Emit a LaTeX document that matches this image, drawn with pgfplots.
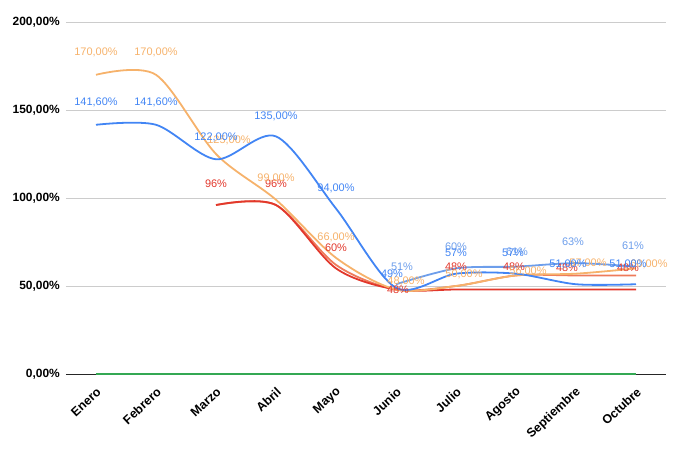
\documentclass[border=0pt]{standalone}
\usepackage{pgfplots}
\pgfplotsset{compat=1.18}
\usepackage{pgfplotstable}
\usepackage{fontspec}
\setmainfont{Liberation Sans}
\definecolor{cblue}{HTML}{4285F4}
\definecolor{clblue}{HTML}{6D9EEB}
\definecolor{corange}{HTML}{F6B26B}
\definecolor{cred}{HTML}{E2382C}
\definecolor{csalmon}{HTML}{EE7B5A}
\definecolor{cgreen}{HTML}{34A853}
\definecolor{cgrid}{HTML}{CCCCCC}

\pgfplotstableread{
x y lbl dx dy
0 141.6 141,60 0 22
1 141.6 141,60 0 22
2 122 122,00 0 22
3 135 135,00 0 20
4 94 94,00 0 20
5 49 49 -4 14
6 57 57 0 21
7 57 57 -3 21
8 51 51,00 -8 20
9 51 51,00 -8 20
}\tblue

\pgfplotstableread{
x y lbl dx dy
5 51 51 6 17
6 60 60 0 22
7 61 61 1 15
8 63 63 -3 21
9 61 61 -3 21
}\tlblue

\pgfplotstableread{
x y lbl dx dy
0 170 170,00 0 22
1 170 170,00 0 22
2 125 125,00 13 14
3 99 99,00 0 21
4 66 66,00 0 20
5 48 48,00 10 8
6 50 50,00 8 12
7 56 56,00 12 4
8 57 57,00 12 10
9 60 60,00 13 4
}\torange

\pgfplotstableread{
x y lbl dx dy
2 96 96 0 21
3 96 96 0 21
4 60 60 0 21
5 48 48 2 0
6 48 48 0 23
7 48 48 -2 23
8 48 48 -9 22
9 48 48 -8 22
}\tred

\pgfplotstableread{
x y
2 96
3 96
4 62
5 48
6 50
7 56
8 56
9 56
}\tsalmon

\pgfplotstableread{
x y
0 0
1 0
2 0
3 0
4 0
5 0
6 0
7 0
8 0
9 0
}\tgreen

\begin{document}
\begin{tikzpicture}
\begin{axis}[
  scale only axis, width=600bp, height=352bp,
  xmin=-0.5, xmax=9.5, ymin=0, ymax=200,
  clip=false,
  axis x line*=bottom, axis y line*=left,
  x axis line style={draw=black!85, line width=0.8bp},
  y axis line style={draw=none},
  major tick length=0pt,
  xtick={0,...,9},
  xticklabels={Enero,Febrero,Marzo,Abril,Mayo,Junio,Julio,Agosto,Septiembre,Octubre},
  xticklabel style={font=\fontsize{12.5}{12.5}\selectfont\bfseries, xshift=3bp, yshift=-16bp, rotate=43, anchor=east, inner sep=0pt},
  ytick={0,50,100,150,200},
  yticklabels={{0,00\%},{50,00\%},{100,00\%},{150,00\%},{200,00\%}},
  yticklabel style={font=\fontsize{12}{12}\selectfont\bfseries, anchor=east, inner sep=0pt, xshift=-6bp},
  /pgf/number format/assume math mode=true,
  ymajorgrids, grid style={draw=cgrid, line width=0.6bp},
  every axis plot/.append style={line width=1.8bp, smooth, tension=0.5, mark=none},
  lab/.style={
    nodes near coords={\pgfplotspointmeta\%},
    point meta=explicit symbolic,
    visualization depends on={\thisrow{dx} \as \dx},
    visualization depends on={\thisrow{dy} \as \dy},
    every node near coord/.append style={font=\fontsize{11}{11}\selectfont, anchor=center, inner sep=0pt, xshift=\dx bp, yshift=\dy bp},
  },
]
\addplot[cgreen] table[x=x,y=y] {\tgreen};
\addplot[csalmon] table[x=x,y=y] {\tsalmon};
\addplot[cred, lab, every node near coord/.append style={text=cred}] table[x=x,y=y,meta=lbl] {\tred};
\addplot[corange, lab, every node near coord/.append style={text=corange}] table[x=x,y=y,meta=lbl] {\torange};
\addplot[clblue, lab, every node near coord/.append style={text=clblue}] table[x=x,y=y,meta=lbl] {\tlblue};
\addplot[cblue, lab, every node near coord/.append style={text=cblue}] table[x=x,y=y,meta=lbl] {\tblue};
\end{axis}
\pgfresetboundingbox
\path[use as bounding box] (-66bp,-76bp) rectangle (609bp,374bp);
\end{tikzpicture}
\end{document}
